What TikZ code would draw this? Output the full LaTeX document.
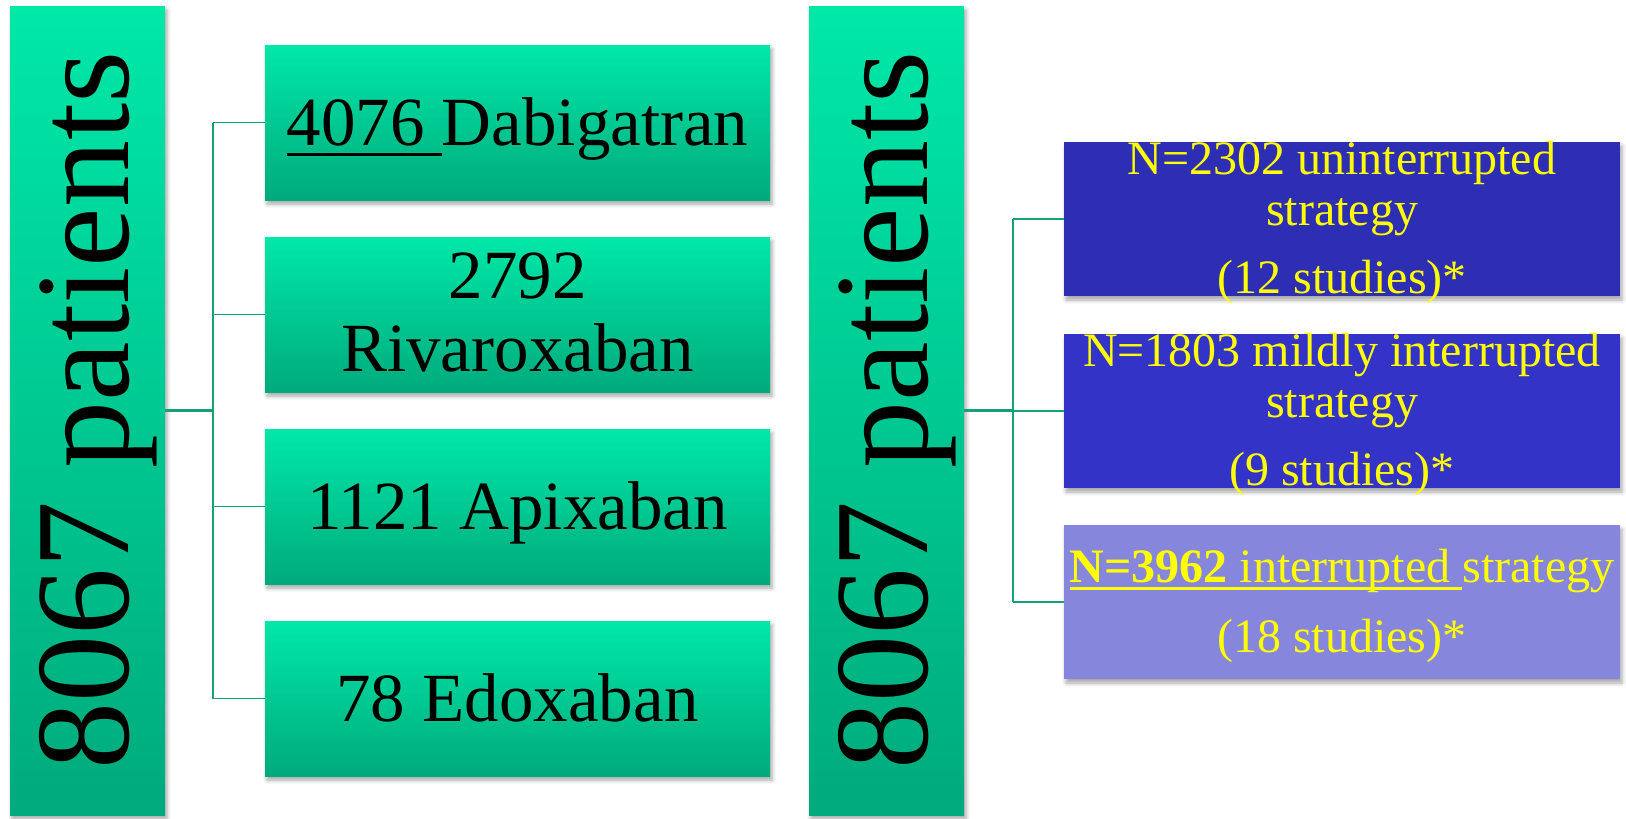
\documentclass[tikz,border=0pt]{standalone}
\usepackage{fontspec}
\setmainfont{Liberation Serif}
\usetikzlibrary{shadows.blur}
\definecolor{gtop}{RGB}{0,232,168}
\definecolor{gbot}{RGB}{0,170,124}
\definecolor{conncol}{RGB}{20,160,120}
\definecolor{blueA}{RGB}{46,46,181}
\definecolor{blueB}{RGB}{51,51,200}
\definecolor{blueC}{RGB}{134,134,221}
\definecolor{yel}{RGB}{255,255,0}
\newcommand\myul[1]{\setbox0\hbox{#1}\rlap{\rule[-0.15em]{\wd0}{0.045em}}\box0}
\tikzset{
  shadowed/.style={blur shadow={shadow xshift=2pt, shadow yshift=-4pt, shadow blur radius=4pt, shadow opacity=35}},
  greenbox/.style={rectangle, inner sep=0pt, top color=gtop, bottom color=gbot, shadowed},
  tallbox/.style={greenbox, minimum width=155pt, minimum height=809pt},
  drugbox/.style={greenbox, minimum width=505pt, minimum height=155pt},
  stratbox/.style={rectangle, inner sep=0pt, minimum width=556pt, minimum height=154pt, shadowed},
  talltext/.style={rotate=90, anchor=base, inner sep=0pt, font=\fontsize{134}{134}\selectfont},
  drugtext/.style={inner sep=0pt, align=center, font=\fontsize{69}{73}\selectfont},
  strattext/.style={inner sep=0pt, text=yel, align=center, font=\fontsize{48}{51}\selectfont},
  conn/.style={draw=conncol, line width=1.7pt},
  mainconn/.style={draw=conncol, line width=2.3pt}
}
\begin{document}
\begin{tikzpicture}[x=1pt, y=-1pt]
\useasboundingbox (0,0) rectangle (1626,819);
% boxes
\node[tallbox] (L) at (87.5,410.5) {};
\node[tallbox] (M) at (886.5,410.5) {};
\node[drugbox] (d1) at (517.5,122.5) {};
\node[drugbox] (d2) at (517.5,314.5) {};
\node[drugbox] (d3) at (517.5,506.5) {};
\node[drugbox] (d4) at (517.5,698.5) {};
\node[stratbox, fill=blueA] (r1) at (1342,219) {};
\node[stratbox, fill=blueB] (r2) at (1342,411) {};
\node[stratbox, fill=blueC] (r3) at (1342,602) {};
% connectors
\coordinate (Lj) at (213,410.5);
\draw[mainconn] (L.east) -- (Lj);
\draw[conn] (Lj |- d1.west) -- (Lj |- d4.west);
\foreach \n in {d1,d2,d3,d4} \draw[conn] (Lj |- \n.west) -- (\n.west);
\coordinate (Rj) at (1013,410.5);
\draw[mainconn] (M.east) -- (Rj);
\draw[conn] (Rj |- r1.west) -- (Rj |- r3.west);
\foreach \n in {r1,r2,r3} \draw[conn] (Rj |- \n.west) -- (\n.west);
% texts
\node[talltext] (Lt) at (128,410.5) {8067 patients};
\node[talltext] (Mt) at (927,410.5) {8067 patients};
\node[drugtext, anchor=base] (d1t) at (517.5,145.5) {\myul{4076 }Dabigatran};
\node[drugtext] (d2t) at (517.5,312.2) {2792\\Rivaroxaban};
\node[drugtext, anchor=base] (d3t) at (517.5,529.5) {1121 Apixaban};
\node[drugtext, anchor=base] (d4t) at (517.5,721.5) {78 Edoxaban};
\node[strattext] (r1t) at (1342,222.3) {N=2302 uninterrupted\\strategy\\[17pt](12 studies)*};
\node[strattext] (r2t) at (1342,414.3) {N=1803 mildly interrupted\\strategy\\[17pt](9 studies)*};
\node[strattext, font=\fontsize{48}{70}\selectfont] (r3t) at (1342,605.8) {\myul{\textbf{N=3962} interrupted }strategy\\(18 studies)*};
\end{tikzpicture}
\end{document}
